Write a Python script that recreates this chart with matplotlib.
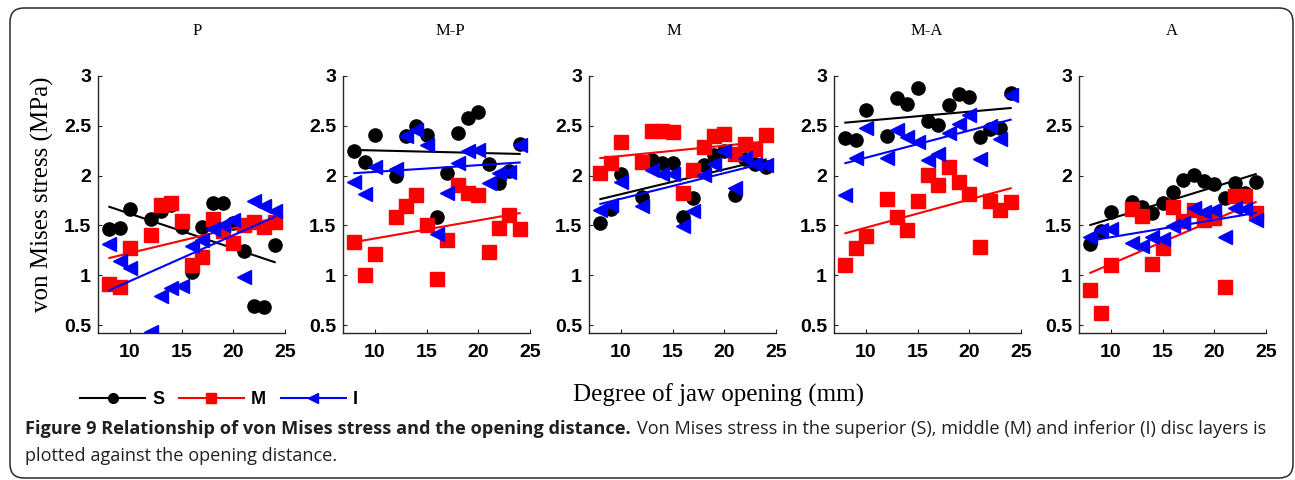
import numpy as np
import matplotlib.pyplot as plt
from matplotlib.patches import FancyBboxPatch
from matplotlib.lines import Line2D
from matplotlib.transforms import IdentityTransform
from matplotlib.ticker import FormatStrFormatter

# jaw opening (mm), same for every panel
opening = [8, 9, 10, 12, 13, 14, 15, 16, 17, 18, 19, 20, 21, 22, 23, 24]
regions = ["P", "M-P", "M", "M-A", "A"]

# superior layer (S)
s_p = [1.46, 1.47, 1.66, 1.56, 1.64, 1.70, 1.48, 1.03, 1.48, 1.73, 1.73, 1.52, 1.24, 0.69, 0.68, 1.30]
s_mp = [2.25, 2.14, 2.41, 2.00, 2.40, 2.50, 2.41, 1.58, 2.03, 2.43, 2.58, 2.64, 2.12, 1.93, 2.05, 2.32]
s_m = [1.52, 1.66, 2.02, 1.79, 2.16, 2.13, 2.13, 1.58, 1.78, 2.11, 2.21, 2.25, 1.81, 2.17, 2.12, 2.09]
s_ma = [2.38, 2.36, 2.66, 2.40, 2.78, 2.72, 2.88, 2.55, 2.51, 2.71, 2.82, 2.79, 2.39, 2.47, 2.48, 2.83]
s_a = [1.31, 1.44, 1.63, 1.74, 1.68, 1.62, 1.73, 1.84, 1.96, 2.01, 1.95, 1.92, 1.78, 1.93, 1.83, 1.94]

# middle layer (M)
m_p = [0.91, 0.88, 1.27, 1.40, 1.71, 1.73, 1.54, 1.10, 1.18, 1.56, 1.44, 1.32, 1.50, 1.53, 1.48, 1.53]
m_mp = [1.33, 1.00, 1.21, 1.58, 1.69, 1.81, 1.50, 0.96, 1.35, 1.91, 1.83, 1.81, 1.23, 1.47, 1.60, 1.46]
m_m = [2.03, 2.13, 2.34, 2.14, 2.45, 2.45, 2.44, 1.83, 2.06, 2.29, 2.40, 2.42, 2.22, 2.32, 2.27, 2.41]
m_ma = [1.10, 1.27, 1.39, 1.77, 1.58, 1.45, 1.75, 2.01, 1.91, 2.09, 1.94, 1.82, 1.28, 1.75, 1.65, 1.74]
m_a = [0.85, 0.62, 1.10, 1.66, 1.59, 1.11, 1.27, 1.68, 1.54, 1.65, 1.55, 1.57, 0.88, 1.80, 1.80, 1.62]

# inferior layer (I)
i_p = [1.31, 1.14, 1.07, 0.43, 0.79, 0.87, 0.89, 1.29, 1.35, 1.46, 1.50, 1.55, 0.98, 1.75, 1.69, 1.64]
i_mp = [1.94, 1.82, 2.09, 2.07, 2.40, 2.46, 2.31, 1.41, 1.83, 2.13, 2.25, 2.26, 1.93, 2.03, 2.04, 2.31]
i_m = [1.65, 1.70, 1.94, 1.69, 2.06, 2.02, 2.02, 1.49, 1.64, 2.01, 2.12, 2.25, 1.88, 2.18, 2.12, 2.11]
i_ma = [1.81, 2.18, 2.48, 2.18, 2.46, 2.39, 2.34, 2.16, 2.22, 2.43, 2.52, 2.61, 2.17, 2.50, 2.37, 2.81]
i_a = [1.38, 1.45, 1.46, 1.32, 1.29, 1.38, 1.36, 1.49, 1.52, 1.67, 1.63, 1.65, 1.38, 1.67, 1.66, 1.55]

layers = [
    ("S", "black", "o", [s_p, s_mp, s_m, s_ma, s_a]),
    ("M", "#ff0000", "s", [m_p, m_mp, m_m, m_ma, m_a]),
    ("I", "#0000ff", "<", [i_p, i_mp, i_m, i_ma, i_a]),
]

W, H = 1295, 480
fig = plt.figure(figsize=(W / 100, H / 100), dpi=100)

# rounded frame around figure + caption (pixel coords)
frame = FancyBboxPatch((10, H - 478), 1283, 470, boxstyle="round,pad=0,rounding_size=14",
                       transform=IdentityTransform(), fill=False, ec="#2a2a2a", lw=1.1)
fig.add_artist(frame)

lefts = [98, 343, 589, 834, 1079]
title_x = [197, 450, 674, 927, 1172]
x = np.array(opening)

for k, name in enumerate(regions):
    ax = fig.add_axes([lefts[k] / W, 1 - 333 / H, 187 / W, 257 / H])
    for lab, col, mk, series in layers:
        y = np.array(series[k])
        ax.plot(x, y, ls="none", marker=mk, color=col, ms=9.5, mec=col)
        b, a = np.polyfit(x, y, 1)
        xl = np.array([x.min(), x.max()])
        ax.plot(xl, a + b * xl, color=col, lw=1.5)
    ax.set_xlim(6.9, 25)
    ax.set_ylim(0.42, 3)
    ax.set_xticks([10, 15, 20, 25])
    ax.set_yticks([0.5, 1, 1.5, 2, 2.5, 3])
    ax.yaxis.set_major_formatter(FormatStrFormatter("%g"))
    for sp in ["top", "right"]:
        ax.spines[sp].set_visible(False)
    for sp in ["left", "bottom"]:
        ax.spines[sp].set_color("#262626")
        ax.spines[sp].set_linewidth(1.0)
    ax.tick_params(direction="in", length=3, color="#262626", labelsize=14)
    ax.tick_params(axis="x", pad=8)
    ax.tick_params(axis="y", pad=5)
    for t in ax.get_xticklabels() + ax.get_yticklabels():
        t.set_fontfamily("Liberation Sans")
        t.set_fontweight("bold")
    fig.text(title_x[k] / W, 1 - 31 / H, name, ha="center", va="center",
             family="Liberation Serif", fontsize=12)

fig.text(42 / W, 1 - 194 / H, "von Mises stress (MPa)", rotation=90, ha="center", va="center",
         family="Liberation Serif", fontsize=18)
fig.text(718 / W, 1 - 395 / H, "Degree of jaw opening (mm)", ha="center", va="center",
         family="Liberation Serif", fontsize=18)

handles = [Line2D([], [], color=col, marker=mk, ms=7, lw=1.5) for lab, col, mk, s in layers]
fig.legend(handles, [l[0] for l in layers], loc="center left", bbox_to_anchor=(80 / W, 1 - 400 / H),
           ncol=3, frameon=False, borderpad=0, borderaxespad=0, handlelength=3.6,
           handletextpad=0.4, columnspacing=0.8,
           prop={"family": "Liberation Sans", "weight": "bold", "size": 13})

# caption
cap_bold = "Figure 9 Relationship of von Mises stress and the opening distance."
cap_rest = "Von Mises stress in the superior (S), middle (M) and inferior (I) disc layers is"
t1 = fig.text(25 / W, 1 - 429 / H, cap_bold, ha="left", va="center", family="Open Sans",
              fontweight="bold", fontsize=13.1, color="#231f20")
fig.canvas.draw()
bb = t1.get_window_extent(renderer=fig.canvas.get_renderer())
fig.text((bb.x1 + 6) / W, 1 - 429 / H, cap_rest, ha="left", va="center", family="Open Sans",
         fontsize=13.1, color="#231f20")
fig.text(25 / W, 1 - 456 / H, "plotted against the opening distance.", ha="left", va="center",
         family="Open Sans", fontsize=13.1, color="#231f20")

fig.savefig("out.png", dpi=100)
